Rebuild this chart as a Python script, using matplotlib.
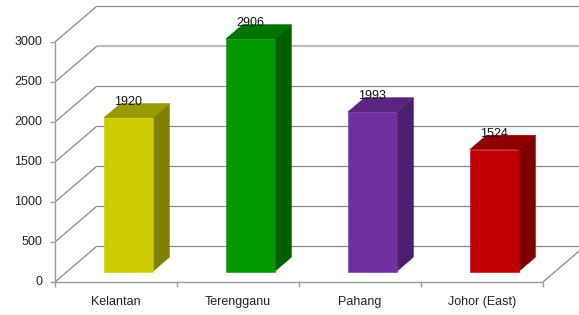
import matplotlib
matplotlib.use('Agg')
import matplotlib.pyplot as plt
from matplotlib.patches import Polygon
from matplotlib.lines import Line2D
from matplotlib.transforms import IdentityTransform

categories = ['Kelantan', 'Terengganu', 'Pahang', 'Johor (East)']
values = [1920, 2906, 1993, 1524]
yticks = [0, 500, 1000, 1500, 2000, 2500, 3000]
front_colors = ['#CCCC00', '#009900', '#7030A0', '#C00000']
top_colors = ['#999900', '#007300', '#5A2682', '#900000']
side_colors = ['#808000', '#006000', '#4A1F6B', '#7F0000']

plt.rcParams['font.family'] = ['Liberation Sans', 'DejaVu Sans']

W, H, DPI = 579, 315, 100
fig = plt.figure(figsize=(W / DPI, H / DPI), dpi=DPI)
fig.patch.set_facecolor('white')
ax = fig.add_axes([55 / W, (H - 282) / H, 488 / W, 240 / H])
ax.set_xlim(-0.5, len(categories) - 0.5)
ax.set_ylim(0, 3000)
ax.axis('off')

DX, DY = 42.0, 36.0   # full depth offset (pixels)
D0, D1 = 0.29, 0.69   # bar front / back depth fraction
BW = 0.40             # bar width (category units)
ID = IdentityTransform()
xl, xr = -0.5, len(categories) - 0.5


def P(x, v, d=0.0):
    px, py = ax.transData.transform((x, v))
    return (px + d * DX, py + d * DY)


def line(p, q, color='#878787', lw=0.9, z=1):
    fig.add_artist(Line2D([p[0], q[0]], [p[1], q[1]], color=color, lw=lw,
                          transform=ID, zorder=z, solid_capstyle='butt'))


# back wall grid + side wall diagonals
for v in yticks:
    c, lw = ('#bdbdbd', 1.6) if v == 2500 else ('#878787', 0.9)
    line(P(xl, v, 1), P(xr, v, 1), c, lw)
    line(P(xl, v, 0), P(xl, v, 1), '#878787', 0.9)

# floor
line(P(xl, 0, 0), P(xr, 0, 0), '#9a9a9a', 1.0, 2)
line(P(xr, 0, 0), P(xr, 0, 1), '#878787', 0.9, 2)
for i in range(len(categories) + 1):
    p = P(xl + i, 0, 0)
    line(p, (p[0], p[1] - 5), '#9a9a9a', 1.0, 2)

# vertical axis
line(P(xl, 0, 0), P(xl, 3000, 0), '#9a9a9a', 1.0, 2)
for v in yticks:
    p = P(xl, v, 0)
    line((p[0] - 5, p[1]), p, '#9a9a9a', 1.0, 2)
    fig.text(p[0] - 13, p[1], f'{v}', transform=ID, ha='right', va='center',
             fontsize=9, color='#222222')

# bars
for i, (cat, v) in enumerate(zip(categories, values)):
    a, b = i - BW / 2, i + BW / 2
    front = [P(a, 0, D0), P(b, 0, D0), P(b, v, D0), P(a, v, D0)]
    top = [P(a, v, D0), P(b, v, D0), P(b, v, D1), P(a, v, D1)]
    side = [P(b, 0, D0), P(b, 0, D1), P(b, v, D1), P(b, v, D0)]
    for poly, col in ((side, side_colors[i]), (top, top_colors[i]), (front, front_colors[i])):
        fig.add_artist(Polygon(poly, closed=True, facecolor=col, edgecolor=col,
                               lw=0.4, transform=ID, zorder=5))
    cx, cy = P(i, v, D0)
    fig.text(cx, cy + 16, f'{v}', transform=ID, ha='center', va='center',
             fontsize=9, color='#111111', zorder=6)
    lx, ly = P(i, 0, 0)
    fig.text(lx, ly - 20, cat, transform=ID, ha='center', va='center',
             fontsize=9, color='#222222')

fig.savefig('out.png', dpi=DPI, facecolor='white')
